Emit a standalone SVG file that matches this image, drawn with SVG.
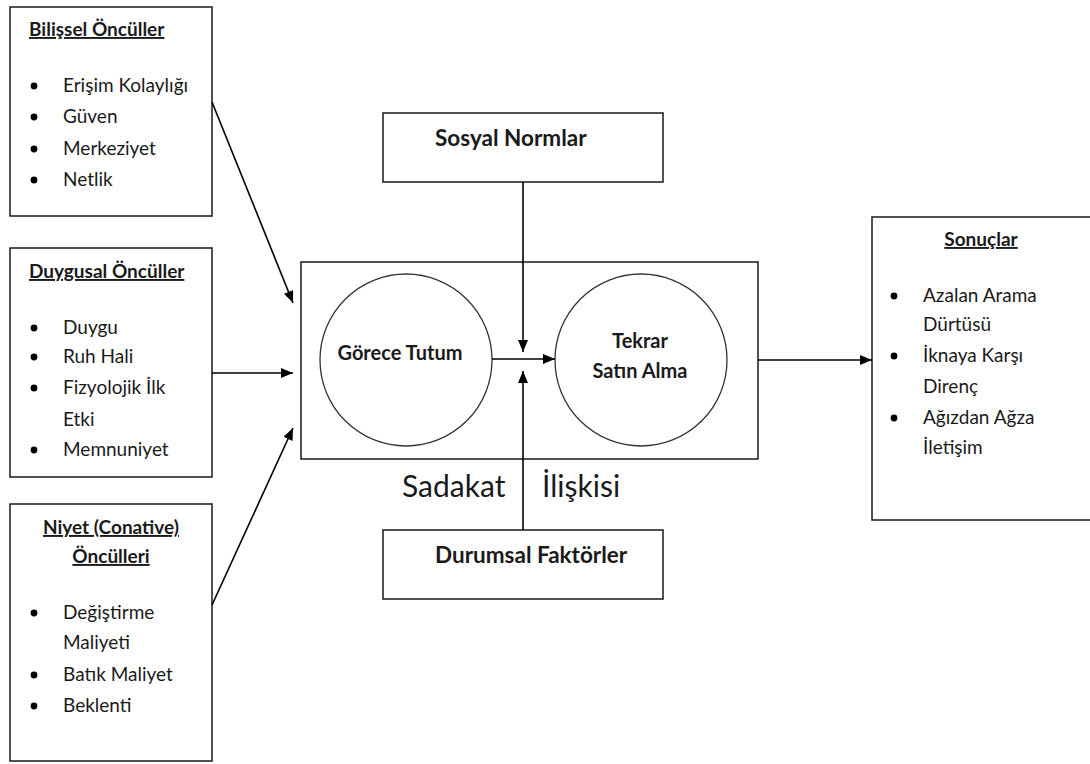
<svg xmlns="http://www.w3.org/2000/svg" width="1090" height="764" viewBox="0 0 1090 764">
  <style>
    .box { fill: #ffffff; stroke: #1a1a1a; stroke-width: 1.5; }
    .circ { fill: #ffffff; stroke: #333333; stroke-width: 1.3; }
    .t { font-family: Lato, "Liberation Sans", sans-serif; font-size: 19px; fill: #1a1a1a; }
    .b { font-weight: bold; }
    .u { text-decoration: underline; }
    .c { font-size: 20px; }
    .h { font-size: 22.5px; }
    .big { font-family: Lato, "Liberation Sans", sans-serif; font-size: 30px; fill: #1a1a1a; }
    .dot { fill: #000000; }
    .link { stroke: #000000; stroke-width: 1.6; fill: none; marker-end: url(#arrow); }
  </style>
  <defs>
    <marker id="arrow" viewBox="0 0 12 10" refX="12" refY="5" markerWidth="12" markerHeight="10" markerUnits="userSpaceOnUse" orient="auto">
      <path d="M0,0 L12,5 L0,10 Z" fill="#000000"/>
    </marker>
  </defs>
  <rect width="1090" height="764" fill="#ffffff"/>

  <!-- Cognitive antecedents -->
  <g id="bilissel">
    <rect class="box" x="10" y="7" width="202" height="209"/>
    <text class="t b u" x="29" y="36">Bilişsel Öncüller</text>
    <circle class="dot" cx="34" cy="86" r="3.4"/>
    <text class="t" x="63" y="92">Erişim Kolaylığı</text>
    <circle class="dot" cx="34" cy="117" r="3.4"/>
    <text class="t" x="63" y="123">Güven</text>
    <circle class="dot" cx="34" cy="149" r="3.4"/>
    <text class="t" x="63" y="155">Merkeziyet</text>
    <circle class="dot" cx="34" cy="180" r="3.4"/>
    <text class="t" x="63" y="186">Netlik</text>
  </g>

  <!-- Affective antecedents -->
  <g id="duygusal">
    <rect class="box" x="10" y="248" width="202" height="229"/>
    <text class="t b u" x="29" y="278">Duygusal Öncüller</text>
    <circle class="dot" cx="34" cy="328" r="3.4"/>
    <text class="t" x="63" y="334">Duygu</text>
    <circle class="dot" cx="34" cy="357" r="3.4"/>
    <text class="t" x="63" y="363">Ruh Hali</text>
    <circle class="dot" cx="34" cy="388" r="3.4"/>
    <text class="t" x="63" y="394">Fizyolojik  İlk</text>
    <text class="t" x="63" y="426">Etki</text>
    <circle class="dot" cx="34" cy="450" r="3.4"/>
    <text class="t" x="63" y="456">Memnuniyet</text>
  </g>

  <!-- Conative antecedents -->
  <g id="niyet">
    <rect class="box" x="10" y="504" width="202" height="257"/>
    <text class="t b u" x="111" y="534" text-anchor="middle">Niyet (Conative)</text>
    <text class="t b u" x="111" y="563" text-anchor="middle">Öncülleri</text>
    <circle class="dot" cx="34" cy="613" r="3.4"/>
    <text class="t" x="63" y="619">Değiştirme</text>
    <text class="t" x="63" y="649">Maliyeti</text>
    <circle class="dot" cx="34" cy="675" r="3.4"/>
    <text class="t" x="63" y="681">Batık Maliyet</text>
    <circle class="dot" cx="34" cy="706" r="3.4"/>
    <text class="t" x="63" y="712">Beklenti</text>
  </g>

  <!-- Social norms -->
  <g id="sosyal">
    <rect class="box" x="383" y="113" width="280" height="69"/>
    <text class="t b h" x="435" y="146">Sosyal Normlar</text>
  </g>

  <!-- Situational factors -->
  <g id="durumsal">
    <rect class="box" x="383" y="530" width="280" height="69"/>
    <text class="t b h" x="435" y="563">Durumsal Faktörler</text>
  </g>

  <!-- Loyalty relationship -->
  <g id="sadakat">
    <rect class="box" x="301" y="262" width="457" height="197"/>
    <text class="big" x="402" y="497">Sadakat</text>
    <text class="big" x="542" y="497">İlişkisi</text>
  </g>
  <g id="gorece">
    <circle class="circ" cx="406" cy="360" r="86"/>
    <text class="t b c" x="400" y="360" text-anchor="middle">Görece Tutum</text>
  </g>
  <g id="tekrar">
    <circle class="circ" cx="641" cy="360" r="86"/>
    <text class="t b c" x="640" y="348" text-anchor="middle">Tekrar</text>
    <text class="t b c" x="640" y="378" text-anchor="middle">Satın Alma</text>
  </g>

  <!-- Outcomes -->
  <g id="sonuclar">
    <rect class="box" x="872" y="217" width="225" height="303"/>
    <text class="t b u" x="981" y="246" text-anchor="middle">Sonuçlar</text>
    <circle class="dot" cx="894" cy="296" r="3.4"/>
    <text class="t" x="923" y="302">Azalan Arama</text>
    <text class="t" x="923" y="331">Dürtüsü</text>
    <circle class="dot" cx="894" cy="356" r="3.4"/>
    <text class="t" x="923" y="362">İknaya Karşı</text>
    <text class="t" x="923" y="393">Direnç</text>
    <circle class="dot" cx="894" cy="418" r="3.4"/>
    <text class="t" x="923" y="424">Ağızdan Ağza</text>
    <text class="t" x="923" y="454">İletişim</text>
  </g>

  <!-- Connectors -->
  <g id="connectors">
    <line class="link" x1="212" y1="102" x2="293" y2="303"/>
    <line class="link" x1="212" y1="373" x2="293" y2="373"/>
    <line class="link" x1="212" y1="605" x2="293" y2="428"/>
    <line class="link" x1="492" y1="359" x2="555" y2="359"/>
    <line class="link" x1="523" y1="182" x2="523" y2="352"/>
    <line class="link" x1="523" y1="530" x2="523" y2="371"/>
    <line class="link" x1="758" y1="360" x2="872" y2="360"/>
  </g>
</svg>
